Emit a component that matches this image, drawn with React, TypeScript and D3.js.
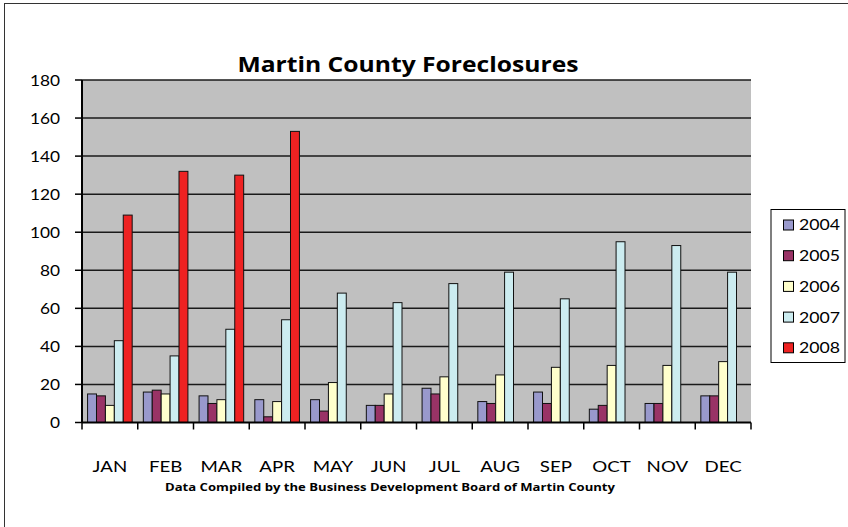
import * as d3 from 'd3';

const months = ['JAN', 'FEB', 'MAR', 'APR', 'MAY', 'JUN', 'JUL', 'AUG', 'SEP', 'OCT', 'NOV', 'DEC'];
const years = ['2004', '2005', '2006', '2007', '2008'];

// foreclosures per month, one list per year
const y2004 = [15, 16, 14, 12, 12, 9, 18, 11, 16, 7, 10, 14];
const y2005 = [14, 17, 10, 3, 6, 9, 15, 10, 10, 9, 10, 14];
const y2006 = [9, 15, 12, 11, 21, 15, 24, 25, 29, 30, 30, 32];
const y2007 = [43, 35, 49, 54, 68, 63, 73, 79, 65, 95, 93, 79];
const y2008 = [109, 132, 130, 153, 0, 0, 0, 0, 0, 0, 0, 0];
const series = [y2004, y2005, y2006, y2007, y2008];

const yTicks = [0, 20, 40, 60, 80, 100, 120, 140, 160, 180];

const COLORS = ['#9999CC', '#993366', '#FFFFCC', '#CCECF0', '#EE2222'];

const W = 848;
const H = 527;
const FONT = 'Lato, "Open Sans", sans-serif';

// the original picture is stretched sideways, so the short labels are widened a little
function Wide({ x, y, sx, size, anchor = 'start', children }: any) {
  return (
    <text transform={`translate(${x},${y}) scale(${sx},1)`} textAnchor={anchor} dy="0.35em" fontSize={size} fill="#000">
      {children}
    </text>
  );
}

export default function App() {
  const plot = { left: 82, right: 751, top: 80, bottom: 422.5 };

  const x = d3.scaleBand<string>().domain(months).range([plot.left, plot.right])
    .paddingInner(0.2).paddingOuter(0.1);
  const xIn = d3.scaleBand<string>().domain(years).range([0, x.bandwidth()]);
  const y = d3.scaleLinear().domain([0, 180]).range([plot.bottom, plot.top]);

  const step = (plot.right - plot.left) / months.length;
  const boundaries = d3.range(months.length + 1).map(i => plot.left + i * step);

  return (
    <svg width={W} height={H} style={{ position: 'absolute', left: 0, top: 0 }} fontFamily={FONT}>
      <rect x={0} y={0} width={W} height={H} fill="#fff" />
      <rect x={4.5} y={3.5} width={860} height={540} fill="#fff" stroke="#333" strokeWidth={1} />

      {/* Title */}
      <text x={408} y={72} textAnchor="middle" fontSize={22} fontWeight="bold" fill="#000"
        fontFamily='"Open Sans", sans-serif' textLength={341} lengthAdjust="spacingAndGlyphs">
        Martin County Foreclosures
      </text>

      {/* Plot area */}
      <rect x={plot.left} y={plot.top} width={plot.right - plot.left} height={plot.bottom - plot.top} fill="#C0C0C0" />

      {/* Grid */}
      {yTicks.filter(t => t > 0).map(t => (
        <line key={t} x1={plot.left} x2={plot.right} y1={y(t)} y2={y(t)} stroke="#1a1a1a" strokeWidth={1.5} />
      ))}

      {/* Bars */}
      {months.map((m, i) => (
        <g key={m} transform={`translate(${x(m)},0)`}>
          {series.map((s, j) => s[i] > 0 && (
            <rect key={j} x={xIn(years[j])} y={y(s[i])} width={xIn.bandwidth()} height={y(0) - y(s[i])}
              fill={COLORS[j]} stroke="#111" strokeWidth={1} />
          ))}
        </g>
      ))}

      {/* Y axis */}
      <line x1={plot.left} x2={plot.left} y1={plot.top} y2={plot.bottom} stroke="#000" strokeWidth={2} />
      {yTicks.map(t => (
        <g key={t}>
          <line x1={plot.left - 7} x2={plot.left} y1={y(t)} y2={y(t)} stroke="#000" strokeWidth={1.5} />
          <Wide x={60} y={y(t)} sx={1.08} size={16} anchor="end">{t}</Wide>
        </g>
      ))}

      {/* X axis */}
      <line x1={plot.left} x2={plot.right} y1={plot.bottom} y2={plot.bottom} stroke="#000" strokeWidth={2} />
      {boundaries.map((b, i) => (
        <line key={i} x1={b} x2={b} y1={plot.bottom} y2={plot.bottom + 7} stroke="#000" strokeWidth={1.5} />
      ))}
      {months.map(m => (
        <Wide key={m} x={(x(m) as number) + x.bandwidth() / 2} y={466} sx={1.17} size={16} anchor="middle">{m}</Wide>
      ))}

      <text x={390} y={491} textAnchor="middle" fontSize={11} fontWeight="bold" fill="#000"
        fontFamily='"Open Sans", sans-serif' textLength={450} lengthAdjust="spacingAndGlyphs">
        Data Compiled by the Business Development Board of Martin County
      </text>

      {/* Legend */}
      <rect x={771} y={209.5} width={74} height={153} fill="#fff" stroke="#000" strokeWidth={1} />
      {years.map((yr, j) => (
        <g key={yr}>
          <rect x={783.5} y={225 + j * 30.7 - 5} width={10} height={10} fill={COLORS[j]} stroke="#000" strokeWidth={1} />
          <Wide x={799} y={225 + j * 30.7} sx={1.14} size={15.5}>{yr}</Wide>
        </g>
      ))}
    </svg>
  );
}
